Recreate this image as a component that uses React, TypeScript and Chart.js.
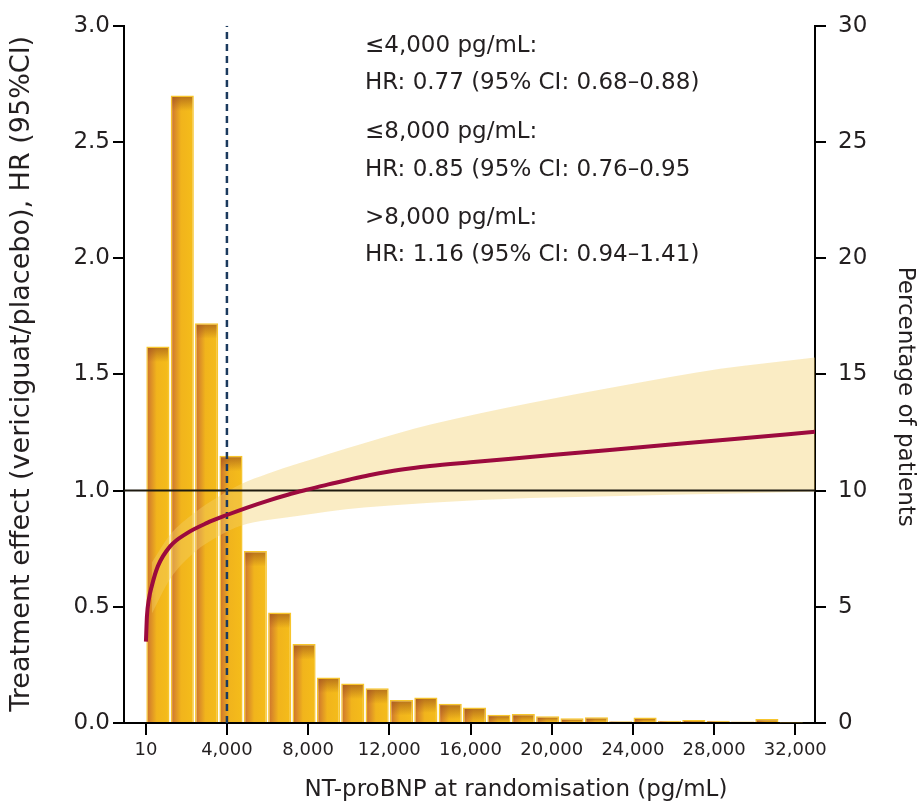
import React, { useEffect, useRef } from "react";
import { Chart, registerables } from "chart.js";

Chart.register(...registerables);

const FONT = "'DejaVu Sans', 'Open Sans', sans-serif";
const TEXT = "#231F20";

// Histogram: NT-proBNP bins (centre, pg/mL) and percentage of patients
const BIN_CENTERS = [600, 1800, 3000, 4200, 5400, 6600, 7800, 9000, 10200, 11400, 12600, 13800, 15000, 16200, 17400, 18600, 19800, 21000, 22200, 23400, 24600, 25800, 27000, 28200, 29400, 30600, 31800];
const PERCENT = [16.2, 27.0, 17.2, 11.5, 7.4, 4.75, 3.4, 1.96, 1.7, 1.49, 0.99, 1.1, 0.83, 0.67, 0.36, 0.39, 0.29, 0.2, 0.25, 0.08, 0.24, 0.1, 0.13, 0.1, 0.06, 0.17, 0.02];

// Treatment effect curve (HR)
const CURVE_X = [10, 60, 150, 300, 600, 1200, 2000, 3000, 4000, 5000, 6000, 7000, 8000, 9000, 10000, 11000, 12000, 13000, 14000, 16000, 18000, 20000, 23000, 26000, 29000, 32970];
const CURVE_HR = [0.35, 0.46, 0.53, 0.59, 0.675, 0.76, 0.815, 0.86, 0.895, 0.927, 0.956, 0.982, 1.005, 1.027, 1.047, 1.066, 1.082, 1.095, 1.106, 1.122, 1.137, 1.153, 1.176, 1.199, 1.222, 1.253];

// 95% CI band
const BAND_X = [300, 1200, 2400, 3600, 4680, 6000, 7470, 9000, 10750, 14030, 18950, 23380, 28300, 32970];
const BAND_UPPER = [0.69, 0.81, 0.905, 0.975, 1.027, 1.072, 1.115, 1.158, 1.204, 1.284, 1.377, 1.45, 1.524, 1.573];
const BAND_LOWER = [0.47, 0.62, 0.735, 0.805, 0.849, 0.873, 0.891, 0.91, 0.927, 0.948, 0.968, 0.977, 0.986, 0.996];

// Axes
const X_MIN = -1070;
const X_MAX = 32970;
const X_TICKS = [10, 4000, 8000, 12000, 16000, 20000, 24000, 28000, 32000];
const REF_HR = 1.0;
const CUTOFF = 4000;

const X_TITLE = "NT-proBNP at randomisation (pg/mL)";
const Y_TITLE = "Treatment effect (vericiguat/placebo), HR (95%CI)";
const Y2_TITLE = "Percentage of patients";

const NOTE_LINES = [
  "\u22644,000 pg/mL:",
  "HR: 0.77 (95% CI: 0.68\u20130.88)",
  "\u22648,000 pg/mL:",
  "HR: 0.85 (95% CI: 0.76\u20130.95",
  ">8,000 pg/mL:",
  "HR: 1.16 (95% CI: 0.94\u20131.41)",
];
const NOTE_BASELINES = [26, 63, 112, 150, 198, 235];

const barShadePlugin = {
  id: "barShade",
  afterDatasetDraw(chart: any, args: any) {
    if (args.index !== 0) return;
    const ctx = chart.ctx;
    const meta = chart.getDatasetMeta(0);
    ctx.save();
    meta.data.forEach((el: any) => {
      const p = el.getProps(["x", "y", "width", "base"], true);
      if (![p.x, p.y, p.width, p.base].every(Number.isFinite)) return;
      const left = p.x - p.width / 2 + 1.5;
      const w = p.width - 3;
      const top = p.y + 1.5;
      const h = Math.max(0, p.base - top);
      const sh = Math.min(14, h);
      if (sh <= 0) return;
      const g = ctx.createLinearGradient(0, top, 0, top + sh);
      g.addColorStop(0, "rgba(150,75,25,0.6)");
      g.addColorStop(1, "rgba(150,75,25,0)");
      ctx.fillStyle = g;
      ctx.fillRect(left, top, w, sh);
    });
    ctx.restore();
  },
};

const textPlugin = {
  id: "texts",
  afterDraw(chart: any) {
    const ctx = chart.ctx;
    const a = chart.chartArea;
    ctx.save();
    ctx.fillStyle = TEXT;
    ctx.font = `23px ${FONT}`;
    ctx.textBaseline = "alphabetic";
    ctx.textAlign = "left";
    NOTE_LINES.forEach((t, i) => {
      ctx.fillText(t, a.left + 241, a.top + NOTE_BASELINES[i]);
    });

    ctx.textAlign = "center";
    ctx.textBaseline = "middle";
    // x-axis title
    ctx.font = `23px ${FONT}`;
    ctx.fillText(X_TITLE, a.left + 392, a.bottom + 67);
    // left axis title
    ctx.save();
    ctx.translate(a.left - 102, a.top + 348);
    ctx.rotate(-Math.PI / 2);
    ctx.font = `27px ${FONT}`;
    ctx.fillText(Y_TITLE, 0, 0);
    ctx.restore();
    // right axis title
    ctx.save();
    ctx.translate(a.right + 90, a.top + 371);
    ctx.rotate(Math.PI / 2);
    ctx.font = `23px ${FONT}`;
    ctx.fillText(Y2_TITLE, 0, 0);
    ctx.restore();
    ctx.restore();
  },
};

export default function App() {
  const ref = useRef<HTMLCanvasElement | null>(null);

  useEffect(() => {
    if (!ref.current) return;
    const barGradient = (c: any) => {
      const chart = c.chart;
      const xs = chart.scales && chart.scales.x;
      if (!xs || c.type !== "data") return "#F2B61A";
      const v = BIN_CENTERS[c.dataIndex];
      const x0 = xs.getPixelForValue(v - 600);
      const x1 = xs.getPixelForValue(v + 600);
      if (!Number.isFinite(x0) || !Number.isFinite(x1)) return "#F2B61A";
      const g = chart.ctx.createLinearGradient(x0, 0, x1, 0);
      g.addColorStop(0, "#CC682B");
      g.addColorStop(0.15, "#D6832A");
      g.addColorStop(0.45, "#F1B41C");
      g.addColorStop(1, "#F5BD1A");
      return g;
    };

    const chart = new Chart(ref.current, {
      type: "bar",
      data: {
        datasets: [
          {
            type: "bar",
            label: "Percentage of patients",
            data: BIN_CENTERS.map((x, i) => ({ x, y: PERCENT[i] })),
            yAxisID: "y2",
            backgroundColor: barGradient,
            borderColor: "#F7C52C",
            borderWidth: 1.5,
            barPercentage: 0.95,
            categoryPercentage: 1,
            order: 10,
          } as any,
          {
            type: "line",
            label: "upper",
            data: BAND_X.map((x, i) => ({ x, y: BAND_UPPER[i] })),
            yAxisID: "y",
            borderWidth: 0,
            pointRadius: 0,
            cubicInterpolationMode: "monotone",
            fill: "+1",
            backgroundColor: "rgba(242,207,108,0.4)",
            order: 5,
          } as any,
          {
            type: "line",
            label: "lower",
            data: BAND_X.map((x, i) => ({ x, y: BAND_LOWER[i] })),
            yAxisID: "y",
            borderWidth: 0,
            pointRadius: 0,
            cubicInterpolationMode: "monotone",
            fill: false,
            order: 5,
          } as any,
          {
            type: "line",
            label: "reference",
            data: [
              { x: X_MIN, y: REF_HR },
              { x: X_MAX, y: REF_HR },
            ],
            yAxisID: "y",
            borderColor: "#1E1A10",
            borderWidth: 2,
            pointRadius: 0,
            fill: false,
            order: 3,
          } as any,
          {
            type: "line",
            label: "cutoff",
            data: [
              { x: CUTOFF, y: 0 },
              { x: CUTOFF, y: 3 },
            ],
            yAxisID: "y",
            borderColor: "#1B3A5E",
            borderWidth: 2.5,
            borderDash: [7, 5],
            pointRadius: 0,
            fill: false,
            order: 2,
          } as any,
          {
            type: "line",
            label: "HR",
            data: CURVE_X.map((x, i) => ({ x, y: CURVE_HR[i] })),
            yAxisID: "y",
            borderColor: "#9C0A3E",
            borderWidth: 4,
            pointRadius: 0,
            cubicInterpolationMode: "monotone",
            fill: false,
            order: 1,
          } as any,
        ],
      },
      options: {
        animation: false,
        responsive: true,
        maintainAspectRatio: false,
        layout: { padding: { top: 22 } },
        plugins: {
          legend: { display: false },
          tooltip: { enabled: false },
        },
        scales: {
          x: {
            type: "linear",
            min: X_MIN,
            max: X_MAX,
            offset: false,
            grid: {
              display: true,
              drawOnChartArea: false,
              drawTicks: true,
              tickLength: 12,
              color: "#000",
              lineWidth: 2,
              offset: false,
            },
            border: { display: true, color: "#000", width: 2 },
            ticks: {
              autoSkip: false,
              maxRotation: 0,
              padding: 5,
              color: TEXT,
              font: { size: 18, family: FONT },
              callback: (v: any) => Number(v).toLocaleString("en-US"),
            },
            afterBuildTicks: (s: any) => {
              s.ticks = X_TICKS.map((value) => ({ value }));
            },
            title: { display: false },
            afterFit: (s: any) => {
              s.height = 80;
            },
          } as any,
          y: {
            position: "left",
            min: 0,
            max: 3,
            grid: {
              display: true,
              drawOnChartArea: false,
              tickLength: 11,
              color: "#000",
              lineWidth: 2,
            },
            border: { display: true, color: "#000", width: 2 },
            ticks: {
              stepSize: 0.5,
              padding: 3,
              color: TEXT,
              font: { size: 23, family: FONT },
              callback: (v: any) => Number(v).toFixed(1),
            },
            title: { display: false },
            afterFit: (s: any) => {
              s.width = 124;
            },
          } as any,
          y2: {
            position: "right",
            min: 0,
            max: 30,
            grid: {
              display: true,
              drawOnChartArea: false,
              tickLength: 11,
              color: "#000",
              lineWidth: 2,
            },
            border: { display: true, color: "#000", width: 2 },
            ticks: {
              stepSize: 5,
              padding: 12,
              color: TEXT,
              font: { size: 23, family: FONT },
            },
            title: { display: false },
            afterFit: (s: any) => {
              s.width = 104;
            },
          } as any,
        },
      } as any,
      plugins: [barShadePlugin, textPlugin],
    });
    return () => chart.destroy();
  }, []);

  return (
    <div style={{ position: "absolute", left: 0, top: 0, width: 919, height: 803 }}>
      <canvas ref={ref} />
    </div>
  );
}
